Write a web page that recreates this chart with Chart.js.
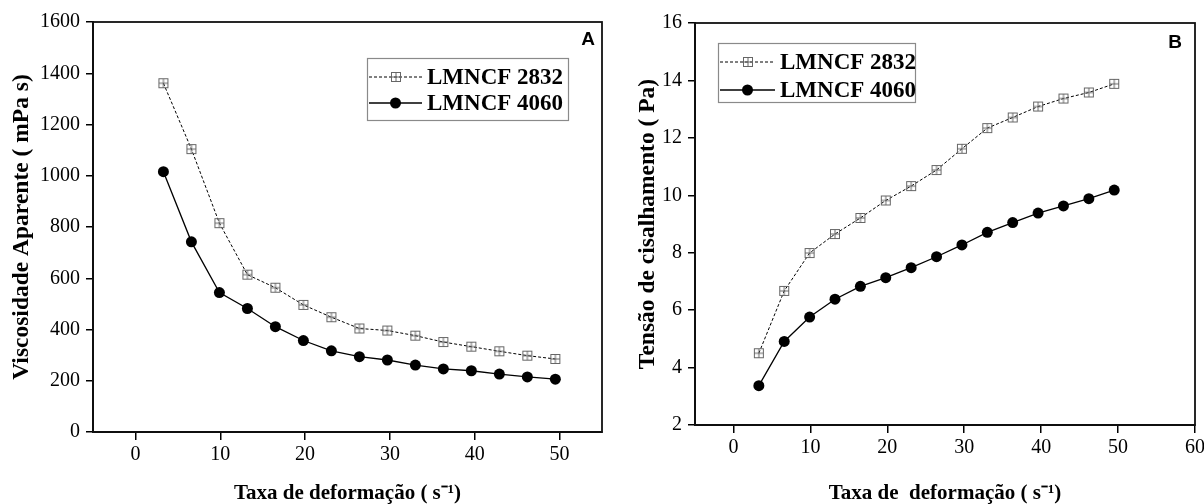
<!DOCTYPE html>
<html><head><meta charset="utf-8">
<script src="https://cdn.jsdelivr.net/npm/chart.js@4.4.0/dist/chart.umd.min.js"></script>
<style>
html,body{margin:0;padding:0;background:#fff;width:1204px;height:504px;overflow:hidden;position:relative;}
canvas{position:absolute;top:0;}
#cA{left:0}
#cB{left:604px}
</style></head><body>
<canvas id="cA" width="608" height="504"></canvas>
<canvas id="cB" width="604" height="504"></canvas>
<script>
// ---- data ----
const shearRate = [3.3, 6.6, 9.9, 13.2, 16.5, 19.8, 23.1, 26.4, 29.7, 33.0, 36.3, 39.6, 42.9, 46.2, 49.5];
const viscosity2832 = [1361, 1104, 815, 614, 563, 496, 448, 404, 396, 376, 351, 333, 315, 298, 285];
const viscosity4060 = [1016, 742, 544, 482, 411, 357, 317, 294, 281, 261, 246, 239, 226, 215, 206];
const stress2832 = [4.50, 6.67, 7.99, 8.65, 9.21, 9.82, 10.32, 10.88, 11.62, 12.34, 12.71, 13.09, 13.37, 13.58, 13.88];
const stress4060 = [3.37, 4.91, 5.76, 6.38, 6.83, 7.13, 7.48, 7.86, 8.27, 8.71, 9.05, 9.38, 9.63, 9.88, 10.18];
const seriesNames = ['LMNCF 2832', 'LMNCF 4060'];
const xTickLabelsA = [0, 10, 20, 30, 40, 50];
const xTickLabelsB = [0, 10, 20, 30, 40, 50, 60];
const yTickLabelsA = [0, 200, 400, 600, 800, 1000, 1200, 1400, 1600];
const yTickLabelsB = [2, 4, 6, 8, 10, 12, 14, 16];

// ---- marker: open square with plus ----
function squarePlus() {
  const c = document.createElement('canvas');
  c.width = 12; c.height = 12;
  const g = c.getContext('2d');
  g.strokeStyle = '#666'; g.lineWidth = 1;
  g.strokeRect(1.5, 1.5, 9, 9);
  g.beginPath();
  g.moveTo(6, 1.5); g.lineTo(6, 10.5);
  g.moveTo(1.5, 6); g.lineTo(10.5, 6);
  g.stroke();
  return c;
}
const sqMarker = squarePlus();

function pts(xs, ys) { return xs.map((x, i) => ({x: x, y: ys[i]})); }

function makeDatasets(y1, y2) {
  return [
    {label: seriesNames[0], data: pts(shearRate, y1), borderColor: '#000', borderWidth: 1,
     borderDash: [3, 2], pointStyle: sqMarker, pointRadius: 5, tension: 0},
    {label: seriesNames[1], data: pts(shearRate, y2), borderColor: '#000', borderWidth: 1.3,
     pointStyle: 'circle', pointRadius: 5.5, pointBackgroundColor: '#000', pointBorderColor: '#000',
     pointBorderWidth: 0, tension: 0}
  ];
}

const framePlugin = {
  id: 'frame',
  afterDraw(chart, args, opts) {
    const {ctx, chartArea: a} = chart;
    ctx.save();
    ctx.strokeStyle = '#111'; ctx.lineWidth = 1.8;
    ctx.strokeRect(a.left, a.top, a.right - a.left, a.bottom - a.top);
    ctx.fillStyle = '#000';
    ctx.font = 'bold 19px "Liberation Sans", Arial, sans-serif';
    ctx.textAlign = 'center'; ctx.textBaseline = 'middle';
    ctx.fillText(opts.letter, opts.letterX, opts.letterY);
    const L = opts.legend;
    ctx.strokeStyle = '#8a8a8a'; ctx.lineWidth = 1.2;
    ctx.strokeRect(L.x + 0.5, L.y + 0.5, L.w, L.h);
    chart.data.datasets.forEach((ds, i) => {
      const y = L.y + L.rowY[i];
      ctx.strokeStyle = ds.borderColor; ctx.lineWidth = ds.borderWidth;
      ctx.setLineDash(ds.borderDash || []);
      ctx.beginPath(); ctx.moveTo(L.x + 2, y); ctx.lineTo(L.x + L.lineW, y); ctx.stroke();
      ctx.setLineDash([]);
      const mx = L.x + 2 + (L.lineW - 2) / 2;
      if (ds.pointStyle instanceof HTMLCanvasElement) {
        ctx.drawImage(ds.pointStyle, Math.round(mx - ds.pointStyle.width / 2), Math.round(y - ds.pointStyle.height / 2));
      } else {
        ctx.fillStyle = ds.pointBackgroundColor;
        ctx.beginPath(); ctx.arc(mx, y, ds.pointRadius, 0, Math.PI * 2); ctx.fill();
      }
      ctx.fillStyle = '#000';
      ctx.font = 'bold 23px "Liberation Serif", "Times New Roman", serif';
      ctx.textAlign = 'left'; ctx.textBaseline = 'middle';
      ctx.fillText(ds.label, L.x + L.lineW + 5, y + 1);
    });
    ctx.restore();
  }
};

const tickFont = {family: '"Liberation Serif", "Times New Roman", serif', size: 20};
const titleFont = {family: '"Liberation Serif", "Times New Roman", serif', size: 21, weight: 'bold', lineHeight: 1.0};
const titleFontY = {family: '"Liberation Serif", "Times New Roman", serif', size: 23.5, weight: 'bold', lineHeight: 1.1};

function fixedTicks(list) {
  return function (s) { s.ticks = list.map(v => ({value: v})); };
}
function plainLabel(v) { return String(v); }

function makeChart(id, cfg) {
  return new Chart(document.getElementById(id), {
    type: 'line',
    data: {datasets: makeDatasets(cfg.y1, cfg.y2)},
    options: {
      responsive: false, animation: false, events: [],
      layout: {padding: cfg.padding},
      plugins: {legend: {display: false}, tooltip: {enabled: false}, frame: cfg.frame},
      scales: {
        x: {
          type: 'linear', min: cfg.xMin, max: cfg.xMax,
          border: {display: true, color: '#000', width: 2},
          grid: {drawOnChartArea: false, color: '#000', lineWidth: 1.5, tickLength: 8},
          ticks: {color: '#000', font: tickFont, padding: 3, maxRotation: 0, autoSkip: false, callback: plainLabel},
          afterBuildTicks: fixedTicks(cfg.xLabels),
          title: {display: true, text: cfg.xTitle, color: '#000', font: titleFont, padding: {top: 0, bottom: 0}},
          afterFit(s) { s.height = cfg.xH; }
        },
        y: {
          type: 'linear', min: cfg.yMin, max: cfg.yMax,
          border: {display: true, color: '#000', width: 2},
          grid: {drawOnChartArea: false, color: '#000', lineWidth: 1.5, tickLength: 7},
          ticks: {color: '#000', font: tickFont, padding: 6, autoSkip: false, callback: plainLabel},
          afterBuildTicks: fixedTicks(cfg.yLabels),
          title: {display: true, text: cfg.yTitle, color: '#000', font: titleFontY, padding: {top: cfg.yTitlePad, bottom: 0}},
          afterFit(s) { s.width = cfg.yW; }
        }
      }
    },
    plugins: [framePlugin]
  });
}

makeChart('cA', {
  y1: viscosity2832, y2: viscosity4060,
  xMin: -5, xMax: 55, yMin: 0, yMax: 1600,
  xLabels: xTickLabelsA, yLabels: yTickLabelsA,
  xTitle: 'Taxa de deformação ( s⁻¹)', yTitle: 'Viscosidade Aparente ( mPa s)',
  padding: {left: 0, top: 22, right: 2, bottom: 0}, xH: 72, yW: 93, yTitlePad: 9,
  frame: {letter: 'A', letterX: 588, letterY: 40,
          legend: {x: 367, y: 58, w: 201, h: 62, rowY: [19, 45], lineW: 55}}
});

makeChart('cB', {
  y1: stress2832, y2: stress4060,
  xMin: -5, xMax: 60, yMin: 2, yMax: 16,
  xLabels: xTickLabelsB, yLabels: yTickLabelsB,
  xTitle: 'Taxa de  deformação ( s⁻¹)', yTitle: 'Tensão de cisalhamento ( Pa)',
  padding: {left: 0, top: 23, right: 11, bottom: 0}, xH: 79, yW: 91, yTitlePad: 31,
  frame: {letter: 'B', letterX: 571, letterY: 43,
          legend: {x: 114, y: 43, w: 197, h: 59, rowY: [19, 47], lineW: 57}}
});
</script>
</body></html>
